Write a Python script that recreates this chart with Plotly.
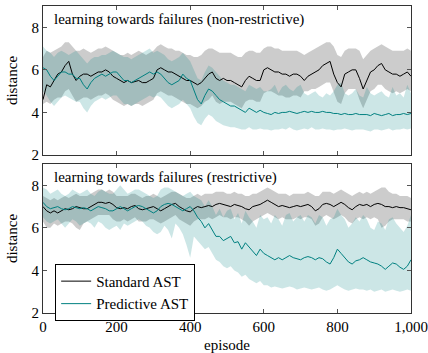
import plotly.graph_objects as go

episodes = list(range(0, 1001, 10))

# ---- top panel: non-restrictive ----
std_top_mean = [4.6, 5.3, 5.2, 5.5, 5.8, 5.9, 6.2, 6.4, 5.8, 5.5, 5.7,
                5.8, 5.8, 5.7, 5.8, 5.9, 5.9, 6.0, 5.9, 5.7, 5.6,
                5.5, 5.4, 5.5, 5.4, 5.45, 5.5, 5.4, 5.4, 5.5, 5.6,
                6.0, 6.1, 6.0, 5.9, 5.9, 5.8, 5.7, 5.6, 5.5, 5.5,
                5.4, 5.3, 5.4, 5.6, 5.8, 5.9, 5.6, 5.5, 5.6, 5.5,
                5.5, 5.4, 5.3, 5.2, 5.5, 5.7, 5.6, 5.5, 5.5, 6.0,
                6.1, 6.0, 5.9, 5.9, 5.8, 5.8, 5.7, 5.8, 5.8, 5.7,
                5.5, 5.7, 5.8, 5.9, 6.0, 6.2, 6.3, 6.4, 5.8, 5.4,
                5.2, 5.8, 5.9, 6.0, 6.0, 5.6, 5.1, 5.5, 5.9, 6.0,
                6.2, 6.3, 6.0, 5.9, 5.8, 5.8, 5.7, 5.8, 5.9, 5.7]
std_top_upper = [6.6, 6.9, 6.8, 6.9, 7.0, 7.1, 7.3, 7.3, 7.1, 6.9, 6.9,
                 7.0, 6.9, 6.8, 6.9, 7.0, 7.0, 7.1, 7.0, 6.9, 6.8,
                 6.7, 6.7, 6.8, 6.7, 6.8, 6.9, 6.8, 6.7, 6.8, 6.9,
                 7.1, 7.2, 7.1, 7.0, 7.0, 6.9, 6.9, 6.8, 6.7, 6.7,
                 6.6, 6.6, 6.7, 6.9, 7.0, 7.0, 6.9, 6.8, 6.8, 6.8,
                 6.8, 6.7, 6.6, 6.6, 6.8, 6.9, 6.9, 6.8, 6.8, 7.0,
                 7.1, 7.1, 7.0, 7.0, 6.9, 6.9, 6.9, 6.9, 6.9, 6.8,
                 6.7, 6.8, 6.9, 7.0, 7.1, 7.2, 7.3, 7.3, 7.1, 6.7,
                 6.6, 6.9, 7.0, 7.0, 7.0, 6.9, 6.5, 6.7, 6.9, 7.0,
                 7.1, 7.2, 7.1, 7.0, 6.9, 6.9, 6.9, 6.9, 7.0, 6.9]
std_top_lower = [4.4, 4.5, 4.4, 4.6, 4.7, 4.7, 5.0, 5.1, 4.8, 4.5, 4.6,
                 4.7, 4.7, 4.6, 4.7, 4.8, 4.8, 4.9, 4.8, 4.6, 4.5,
                 4.4, 4.3, 4.4, 4.3, 4.4, 4.4, 4.3, 4.4, 4.5, 4.6,
                 4.9, 5.0, 4.9, 4.8, 4.8, 4.7, 4.6, 4.5, 4.4, 4.4,
                 4.3, 4.2, 4.3, 4.5, 4.6, 4.8, 4.5, 4.4, 4.5, 4.5,
                 4.5, 4.4, 4.3, 4.2, 4.5, 4.6, 4.6, 4.5, 4.5, 4.9,
                 5.0, 5.0, 4.9, 4.8, 4.8, 4.7, 4.7, 4.8, 4.8, 4.7,
                 5.0, 5.0, 5.1, 5.1, 5.2, 5.3, 5.4, 5.4, 4.9, 4.5,
                 4.4, 4.9, 5.1, 5.1, 5.1, 4.6, 4.2, 4.6, 5.0, 5.1,
                 5.3, 5.3, 5.1, 5.0, 4.9, 5.0, 4.9, 5.0, 5.1, 5.0]
pred_top_mean = [6.1, 6.0, 5.7, 5.5, 5.7, 5.9, 5.9, 5.8, 5.8, 5.6, 5.6,
                 5.3, 5.1, 5.4, 5.6, 5.7, 5.8, 5.7, 5.8, 5.9, 5.9,
                 5.7, 5.5, 5.5, 5.4, 5.5, 5.6, 5.7, 5.8, 5.9, 5.8,
                 5.9, 5.8, 5.6, 5.4, 5.3, 5.4, 5.5, 5.8, 5.6, 5.5,
                 5.0, 4.6, 4.4, 4.8, 5.1, 5.0, 4.8, 4.6, 4.5, 4.4,
                 4.3, 4.3, 4.2, 4.1, 4.0, 4.2, 4.1, 4.0, 4.1, 4.0,
                 3.95, 3.9, 4.0, 3.95, 4.0, 4.0, 4.05, 4.0, 3.95, 4.0,
                 4.05, 4.0, 4.05, 4.0, 4.0, 4.05, 4.0, 4.0, 3.95, 3.95,
                 3.9, 3.95, 3.9, 3.9, 3.95, 3.9, 3.9, 3.9, 3.85, 3.95,
                 3.9, 3.85, 3.9, 3.95, 3.85, 3.9, 3.9, 3.95, 3.9, 3.95]
pred_top_upper = [7.1, 6.9, 6.8, 6.6, 6.8, 6.9, 6.8, 6.7, 6.8, 6.9, 6.7,
                  6.5, 6.3, 6.5, 6.6, 6.6, 6.7, 6.7, 6.8, 6.9, 6.8,
                  6.7, 6.6, 6.6, 6.5, 6.6, 6.7, 6.8, 6.9, 7.0, 6.8,
                  6.9, 6.8, 6.7, 6.5, 6.4, 6.5, 6.6, 6.8, 6.6, 6.4,
                  6.0, 5.6, 5.5, 5.9, 6.2, 6.1, 5.9, 5.7, 5.5, 5.4,
                  5.3, 5.3, 5.2, 5.1, 5.0, 5.3, 5.2, 5.1, 5.2, 5.0,
                  5.0, 5.1, 5.3, 4.9, 5.2, 5.3, 5.1, 5.0, 5.2, 5.3,
                  4.9, 4.8, 4.9, 5.0, 4.8, 4.7, 4.9, 4.8, 5.0, 5.3,
                  5.4, 4.9, 4.8, 4.9, 5.1, 4.8, 4.7, 5.2, 4.9, 4.8,
                  4.9, 5.0, 4.8, 4.7, 5.2, 4.8, 4.9, 4.7, 5.3, 4.9]
pred_top_lower = [5.0, 4.8, 4.5, 4.3, 4.5, 4.7, 4.8, 4.7, 4.6, 4.5, 4.5,
                  4.2, 4.0, 4.3, 4.5, 4.6, 4.7, 4.6, 4.7, 4.8, 4.8,
                  4.6, 4.4, 4.4, 4.3, 4.4, 4.5, 4.6, 4.7, 4.8, 4.7,
                  4.8, 4.7, 4.5, 4.3, 4.2, 4.3, 4.4, 4.6, 4.4, 4.2,
                  3.8, 3.5, 3.4, 3.7, 3.9, 3.8, 3.6, 3.5, 3.4, 3.35,
                  3.3, 3.3, 3.25, 3.2, 3.2, 3.3, 3.2, 3.2, 3.25, 3.2,
                  3.2, 3.15, 3.2, 3.2, 3.25, 3.2, 3.3, 3.2, 3.15, 3.2,
                  3.25, 3.2, 3.3, 3.2, 3.2, 3.25, 3.2, 3.2, 3.15, 3.2,
                  3.2, 3.25, 3.2, 3.15, 3.2, 3.2, 3.2, 3.15, 3.1, 3.2,
                  3.2, 3.15, 3.2, 3.25, 3.15, 3.2, 3.2, 3.25, 3.2, 3.25]

# ---- bottom panel: restrictive ----
std_bot_mean = [7.0, 6.8, 6.7, 6.8, 6.7, 6.8, 6.9, 6.85, 6.9, 7.0, 6.95,
                6.9, 6.9, 7.0, 7.1, 7.2, 7.2, 7.15, 7.2, 7.1, 6.95,
                6.9, 6.95, 6.9, 7.0, 7.05, 6.9, 6.85, 6.9, 6.95, 7.0,
                6.9, 6.8, 6.9, 7.0, 7.1, 7.15, 7.0, 6.9, 6.8, 6.75,
                6.9, 7.0, 6.95, 7.0, 7.05, 7.0, 7.1, 7.15, 7.1, 7.05,
                7.0, 7.1, 7.05, 7.0, 6.9, 6.85, 7.0, 7.05, 7.1, 7.2,
                7.3, 7.2, 7.1, 7.0, 7.05, 7.0, 6.95, 7.0, 7.05, 7.0,
                7.05, 7.1, 7.0, 6.8, 6.9, 7.1, 7.15, 7.1, 7.0, 7.1,
                7.2, 7.1, 6.95, 6.85, 7.0, 7.1, 7.05, 7.1, 7.0, 7.1,
                7.15, 7.1, 7.0, 7.0, 6.95, 7.0, 6.95, 6.95, 6.9, 6.85]
std_bot_upper = [7.5, 7.4, 7.3, 7.4, 7.3, 7.4, 7.5, 7.4, 7.5, 7.6, 7.5,
                 7.5, 7.5, 7.6, 7.7, 7.8, 7.8, 7.7, 7.8, 7.7, 7.5,
                 7.5, 7.5, 7.5, 7.6, 7.6, 7.5, 7.4, 7.5, 7.5, 7.6,
                 7.5, 7.4, 7.5, 7.6, 7.7, 7.7, 7.6, 7.5, 7.4, 7.4,
                 7.5, 7.6, 7.5, 7.6, 7.6, 7.6, 7.7, 7.7, 7.7, 7.6,
                 7.6, 7.7, 7.6, 7.6, 7.5, 7.5, 7.6, 7.6, 7.7, 7.8,
                 7.9, 7.8, 7.7, 7.6, 7.6, 7.6, 7.5, 7.6, 7.6, 7.6,
                 7.6, 7.7, 7.6, 7.5, 7.5, 7.7, 7.7, 7.7, 7.6, 7.7,
                 7.8, 7.7, 7.6, 7.5, 7.6, 7.7, 7.6, 7.7, 7.6, 7.7,
                 7.8, 7.9, 7.9, 7.7, 7.6, 7.6, 7.5, 7.5, 7.5, 7.4]
std_bot_lower = [6.3, 6.0, 6.0, 6.2, 6.1, 6.2, 6.3, 6.3, 6.2, 6.0, 5.9,
                 6.2, 6.3, 6.4, 6.5, 6.6, 6.6, 6.6, 6.6, 6.4, 6.3,
                 6.3, 6.4, 6.3, 6.4, 6.5, 6.3, 6.3, 6.3, 6.4, 6.4,
                 6.3, 6.2, 6.3, 6.4, 6.5, 6.6, 6.4, 6.3, 6.2, 6.1,
                 6.3, 6.4, 6.4, 6.4, 6.5, 6.4, 6.5, 6.6, 6.5, 6.5,
                 6.4, 6.5, 6.5, 6.4, 6.3, 6.1, 6.3, 6.4, 6.5, 6.6,
                 6.7, 6.6, 6.5, 6.4, 6.5, 6.4, 6.4, 6.4, 6.5, 6.4,
                 6.5, 6.5, 6.4, 6.1, 6.2, 6.5, 6.6, 6.5, 6.4, 6.5,
                 6.6, 6.5, 6.3, 6.2, 6.4, 6.5, 6.4, 6.5, 6.4, 6.5,
                 6.4, 6.0, 6.1, 6.3, 6.4, 6.4, 6.4, 6.4, 6.3, 6.3]
pred_bot_mean = [7.2, 7.0, 6.9, 6.95, 7.0, 6.9, 6.85, 6.9, 7.0, 6.95, 6.9,
                 6.95, 6.9, 6.8, 6.9, 7.0, 6.95, 6.9, 6.8, 6.8, 6.9,
                 7.0, 6.9, 6.8, 6.9, 7.0, 7.05, 7.0, 6.9, 6.8, 6.7,
                 6.8, 7.0, 7.1, 7.15, 7.1, 7.0, 6.9, 6.8, 6.9, 7.0,
                 6.8, 6.5, 6.3, 6.0, 6.2, 5.9, 5.6, 5.6, 5.4, 5.5,
                 5.6, 5.3, 5.35, 5.0, 5.3, 5.1, 4.9, 4.7, 5.0, 4.8,
                 4.7, 4.6, 4.5, 4.6, 4.5, 4.6, 4.7, 4.6, 4.55, 4.5,
                 4.6, 4.65, 4.6, 4.5, 4.6, 4.55, 4.4, 4.3, 4.6, 5.0,
                 4.8, 4.6, 4.4, 4.3, 4.45, 4.5, 4.6, 4.5, 4.4, 4.35,
                 4.3, 4.2, 4.05, 4.2, 4.35, 4.3, 4.15, 4.05, 4.2, 4.5]
pred_bot_upper = [7.9, 7.8, 7.6, 7.7, 7.8, 7.6, 7.5, 7.6, 7.8, 7.7, 7.6,
                  7.7, 7.8, 7.6, 7.5, 7.7, 7.8, 7.7, 7.6, 7.6, 7.8,
                  8.0, 7.8, 7.6, 7.7, 7.8, 7.8, 7.7, 7.6, 7.5, 7.4,
                  7.5, 7.8, 7.9, 7.9, 7.8, 7.7, 7.6, 7.5, 7.6, 7.7,
                  7.5, 7.4, 7.3, 7.0, 7.3, 7.0, 6.6, 6.9, 6.5, 6.8,
                  6.9, 6.4, 6.7, 6.2, 6.8, 6.5, 6.3, 6.0, 6.6, 6.4,
                  6.5, 6.2, 6.6, 6.4, 6.1, 6.6, 6.7, 6.3, 6.5, 6.6,
                  6.3, 6.6, 6.5, 6.2, 6.6, 6.5, 6.1, 6.4, 6.5, 6.9,
                  6.6, 6.4, 6.0, 6.2, 6.5, 6.3, 6.6, 6.4, 6.0, 5.9,
                  6.3, 6.2, 5.9, 6.4, 6.5, 6.2, 6.0, 5.8, 6.1, 6.6]
pred_bot_lower = [6.5, 6.3, 6.2, 6.3, 6.4, 6.2, 6.0, 6.2, 6.4, 6.3, 6.1,
                  6.2, 6.3, 6.2, 6.0, 6.3, 6.2, 6.0, 5.9, 6.0, 6.1,
                  5.9, 6.2, 6.1, 6.2, 6.3, 6.4, 6.3, 6.1, 6.0, 5.8,
                  5.7, 5.8, 6.1, 5.9, 5.5, 6.2, 6.0, 5.7, 5.2, 4.6,
                  5.6, 5.4, 5.2, 5.0, 5.1, 4.8, 4.5, 4.4, 4.2, 4.1,
                  4.2, 4.0, 3.9, 3.7, 3.8, 3.6, 3.5, 3.4, 3.5, 3.3,
                  3.3, 3.2, 3.25, 3.2, 3.15, 3.2, 3.25, 3.2, 3.1, 3.15,
                  3.2, 3.15, 3.1, 3.15, 3.2, 3.1, 3.05, 3.1, 3.2, 3.3,
                  3.2, 3.1, 3.05, 3.1, 3.15, 3.1, 3.1, 3.05, 3.1, 3.0,
                  3.05, 3.1, 3.0, 3.05, 3.1, 3.05, 3.0, 3.05, 3.1, 3.05]

x_tick_vals = [0, 200, 400, 600, 800, 1000]
x_tick_text = ["0", "200", "400", "600", "800", "1,000"]
y_tick_vals = [2, 4, 6, 8]
series_names = ["Standard AST", "Predictive AST"]
panel_titles = ["learning towards failures (non-restrictive)",
                "learning towards failures (restrictive)"]

BLACK = "black"
TEAL = "rgb(0,128,128)"
GRAY_FILL = "rgba(128,128,128,0.4)"
TEAL_FILL = "rgba(0,128,128,0.2)"
FONT = "Liberation Serif"
FS = 15

fig = go.Figure()


def add_panel(xa, ya, std_m, std_u, std_l, pred_m, pred_u, pred_l, legend):
    for up, lo, fill in [(std_u, std_l, GRAY_FILL), (pred_u, pred_l, TEAL_FILL)]:
        fig.add_trace(go.Scatter(x=episodes, y=up, mode="lines", line=dict(width=0),
                                 xaxis=xa, yaxis=ya, showlegend=False, hoverinfo="skip"))
        fig.add_trace(go.Scatter(x=episodes, y=lo, mode="lines", line=dict(width=0),
                                 fill="tonexty", fillcolor=fill,
                                 xaxis=xa, yaxis=ya, showlegend=False, hoverinfo="skip"))
    fig.add_trace(go.Scatter(x=episodes, y=std_m, mode="lines", name=series_names[0],
                             line=dict(color=BLACK, width=1), xaxis=xa, yaxis=ya,
                             showlegend=legend))
    fig.add_trace(go.Scatter(x=episodes, y=pred_m, mode="lines", name=series_names[1],
                             line=dict(color=TEAL, width=1), xaxis=xa, yaxis=ya,
                             showlegend=legend))


add_panel("x2", "y2", std_top_mean, std_top_upper, std_top_lower,
          pred_top_mean, pred_top_upper, pred_top_lower, False)
add_panel("x", "y", std_bot_mean, std_bot_upper, std_bot_lower,
          pred_bot_mean, pred_bot_upper, pred_bot_lower, True)

axis_common = dict(showline=True, linecolor="#333", linewidth=1, mirror="ticks",
                   ticks="inside", ticklen=4, tickcolor="#555", showgrid=False,
                   zeroline=False, automargin=False,
                   tickfont=dict(family=FONT, size=FS, color="black"))

fig.update_layout(
    width=428, height=353,
    margin=dict(l=43, r=17, t=6, b=40, autoexpand=False),
    paper_bgcolor="white", plot_bgcolor="white",
    font=dict(family=FONT, size=FS, color="black"),
    xaxis=dict(domain=[0, 1], anchor="y", range=[0, 1000], tickvals=x_tick_vals,
               ticktext=x_tick_text, title=dict(text="episode", standoff=14,
                                                font=dict(family=FONT, size=FS)),
               **axis_common),
    yaxis=dict(domain=[0, 0.4853], anchor="x", range=[2, 9], tickvals=y_tick_vals,
               title=dict(text="distance", standoff=10, font=dict(family=FONT, size=FS)),
               **axis_common),
    xaxis2=dict(domain=[0, 1], anchor="y2", range=[0, 1000], tickvals=x_tick_vals,
                showticklabels=False, **axis_common),
    yaxis2=dict(domain=[0.5147, 1], anchor="x2", range=[2, 9], tickvals=y_tick_vals,
                title=dict(text="distance", standoff=10, font=dict(family=FONT, size=FS)),
                **axis_common),
    legend=dict(x=0.033, y=0.16, xanchor="left", yanchor="top", traceorder="normal",
                bgcolor="white", bordercolor="black", borderwidth=1,
                font=dict(family=FONT, size=FS), tracegroupgap=0,
                itemwidth=30),
    showlegend=True,
    annotations=[
        dict(text=panel_titles[0], xref="paper", yref="paper", x=0.025, y=0.955,
             xanchor="left", yanchor="middle", showarrow=False,
             font=dict(family=FONT, size=FS)),
        dict(text=panel_titles[1], xref="paper", yref="paper", x=0.025, y=0.44,
             xanchor="left", yanchor="middle", showarrow=False,
             font=dict(family=FONT, size=FS)),
    ],
)

fig.write_html("out.html", config={"displayModeBar": False},
               post_script="document.body.style.margin='0';document.body.style.overflow='hidden';")
